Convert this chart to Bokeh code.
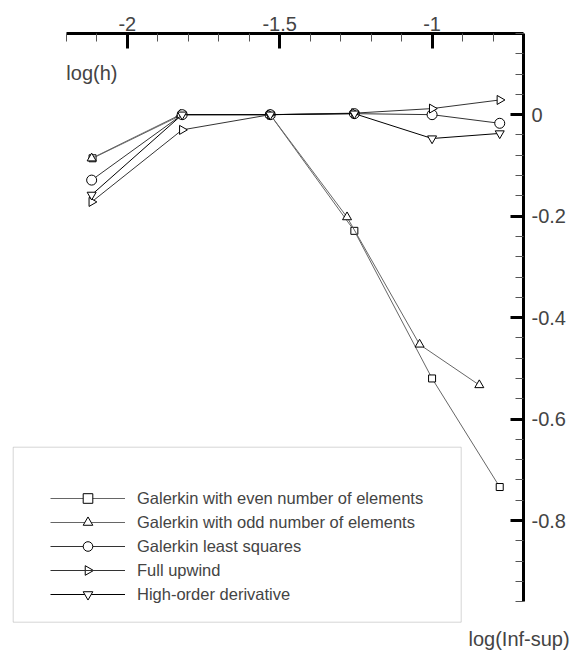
import math
from bokeh.plotting import figure
from bokeh.models import (Range1d, LinearAxis, FixedTicker, Label, Legend, LegendItem,
                          ColumnDataSource, BoxAnnotation, Title)
from bokeh.embed import file_html
from bokeh.resources import INLINE

# ---- data (log(h) vs log(Inf-sup)) ----
x_even = [-2.114, -1.820, -1.531, -1.255, -1.000, -0.778]
y_even = [-0.086, 0.000, 0.000, -0.229, -0.520, -0.734]
x_odd = [-2.117, -1.826, -1.531, -1.279, -1.041, -0.845]
y_odd = [-0.086, 0.000, 0.000, -0.202, -0.453, -0.533]
x_std = [-2.117, -1.820, -1.531, -1.255, -1.000, -0.778]
y_gls = [-0.129, 0.000, 0.000, 0.002, 0.000, -0.017]
y_upwind = [-0.172, -0.030, 0.000, 0.003, 0.012, 0.029]
y_hod = [-0.158, 0.000, 0.000, 0.002, -0.047, -0.037]

series_names = ["Galerkin with even number of elements",
                "Galerkin with odd number of elements",
                "Galerkin least squares",
                "Full upwind",
                "High-order derivative"]

x_major = [-2.0, -1.5, -1.0]
x_minor = [-2.2, -2.1, -1.9, -1.8, -1.7, -1.6, -1.4, -1.3, -1.2, -1.1, -0.9, -0.8, -0.7]
y_major = [-0.8, -0.6, -0.4, -0.2, 0.0]
y_major_labels = ["-0.8", "-0.6", "-0.4", "-0.2", "0"]
y_minor = [-0.96, -0.92, -0.88, -0.84, -0.76, -0.72, -0.68, -0.64, -0.56, -0.52, -0.48, -0.44,
           -0.36, -0.32, -0.28, -0.24, -0.16, -0.12, -0.08, -0.04, 0.04, 0.08, 0.12, 0.16]

FONT = "Liberation Sans"

# layout (pixels)
BL, BT, FW, FH = 11, 33, 512, 591
X0, X1 = -2.38, -0.70
Y0, Y1 = -1.005, 0.16

def xd(px):
    return X0 + (px - BL) * (X1 - X0) / FW

def yd(py):
    return Y1 - (py - BT) * (Y1 - Y0) / FH

p = figure(width=573, height=653, output_backend="svg", toolbar_location=None,
           x_range=Range1d(X0, X1), y_range=Range1d(Y0, Y1),
           x_axis_location=None, y_axis_location=None,
           min_border_left=BL, min_border_right=573 - BL - FW,
           min_border_top=BT, min_border_bottom=653 - BT - FH)
p.frame_width = FW
p.frame_height = FH
p.outline_line_color = None
p.xgrid.visible = False
p.ygrid.visible = False
p.background_fill_color = "white"
p.border_fill_color = "white"

xa = LinearAxis(ticker=FixedTicker(ticks=x_major, minor_ticks=x_minor), bounds=(-2.2, -0.7))
xa.axis_line_width = 3
xa.axis_line_color = "black"
xa.major_tick_in = 15
xa.major_tick_out = 0
xa.major_tick_line_width = 3
xa.minor_tick_in = 8
xa.minor_tick_out = 0
xa.minor_tick_line_width = 1
xa.minor_tick_line_color = "#555555"
xa.major_label_text_font = FONT
xa.major_label_text_font_size = "20px"
xa.major_label_standoff = 3
xa.major_label_overrides = {-2.0: "-2", -1.5: "-1.5", -1.0: "-1"}
p.add_layout(xa, "above")

ya = LinearAxis(ticker=FixedTicker(ticks=y_major, minor_ticks=y_minor), bounds=(-0.96, 0.16))
ya.axis_line_width = 3
ya.axis_line_color = "black"
ya.major_tick_in = 13
ya.major_tick_out = 0
ya.major_tick_line_width = 3
ya.minor_tick_in = 8
ya.minor_tick_out = 0
ya.minor_tick_line_width = 1
ya.minor_tick_line_color = "#555555"
ya.major_label_text_font = FONT
ya.major_label_text_font_size = "20px"
ya.major_label_standoff = 8
ya.major_label_overrides = {v: s for v, s in zip(y_major, y_major_labels)}
p.add_layout(ya, "right")

# legend frame box
p.add_layout(BoxAnnotation(left=xd(12.7), right=xd(460.7), top=yd(446.7), bottom=yd(621.7),
                           fill_color="white", fill_alpha=1.0,
                           line_color="#777777", line_width=1, level="underlay"))

specs = [
    (x_even, y_even, "square", 0.0, 7, "#666666"),
    (x_odd, y_odd, "triangle", 0.0, 9, "#666666"),
    (x_std, y_gls, "circle", 0.0, 10, "#333333"),
    (x_std, y_upwind, "triangle", -math.pi / 2, 9, "#333333"),
    (x_std, y_hod, "inverted_triangle", 0.0, 9, "#000000"),
]

LEG_LEFT, LEG_TOP, ROW_H, GLYPH_W = 50, 486, 24, 75

items = []
for i, ((xs, ys, mk, ang, sz, col), name) in enumerate(zip(specs, series_names)):
    src = ColumnDataSource(dict(x=xs, y=ys, a=[ang] * len(xs)))
    r1 = p.line("x", "y", source=src, line_color=col, line_width=1)
    r2 = p.scatter("x", "y", source=src, marker=mk, angle="a", size=sz, fill_color="white",
                   line_color="black", line_width=1)
    if ang != 0.0:
        # legend key drawn rotated (bokeh legends ignore marker angle)
        items.append(LegendItem(label=name, renderers=[r1], index=0))
        p.scatter([xd(LEG_LEFT + GLYPH_W / 2)], [yd(LEG_TOP + ROW_H * i + ROW_H / 2)],
                  marker=mk, angle=ang, size=0.4 * ROW_H, fill_color="white",
                  line_color="black", line_width=1, level="overlay")
    else:
        items.append(LegendItem(label=name, renderers=[r1, r2], index=0))

leg = Legend(items=items, location=(LEG_LEFT - BL, (BT + FH) - (LEG_TOP + 5 * ROW_H)))
leg.label_text_font = FONT
leg.label_text_font_size = "16.5px"
leg.glyph_width = GLYPH_W
leg.glyph_height = ROW_H
leg.label_height = ROW_H
leg.label_standoff = 12
leg.padding = 0
leg.spacing = 0
leg.margin = 0
leg.border_line_color = None
leg.background_fill_alpha = 0.0
p.add_layout(leg, "center")

p.add_layout(Label(x=-2.2, y=yd(72), text="log(h)", text_font=FONT, text_font_size="20px",
                   text_baseline="middle", text_align="left"))

t = Title(text="log(Inf-sup)", align="left", offset=468 - BL, standoff=3,
          text_font=FONT, text_font_size="20px", text_font_style="normal")
p.add_layout(t, "below")

open("out.html", "w").write(file_html(p, INLINE))
